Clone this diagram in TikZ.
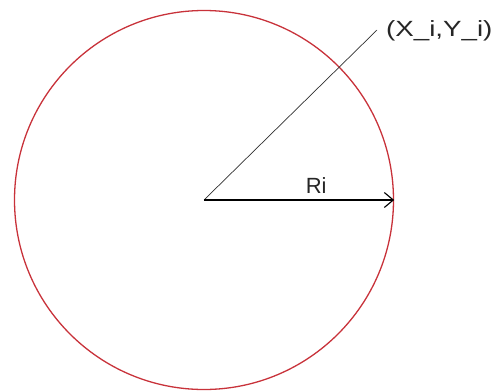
\documentclass[tikz,border=0pt]{standalone}
\usepackage{tikz}
\usetikzlibrary{positioning, arrows.meta}
\usepackage{fontspec}
\setmainfont{Liberation Sans}
\newfontfamily\stretchfont[FakeStretch=1.26]{Liberation Sans}
\definecolor{ringred}{HTML}{C8323A}
\definecolor{lgray}{HTML}{303030}

\begin{document}
\begin{tikzpicture}[
        x=1pt, y=-1pt,
        every node/.style={font=\fontsize{22}{24}\selectfont, text=black!85},
        ring/.style={draw=ringred, line width=1.3pt, circle,
                     minimum size=379pt, inner sep=0pt},
        radius arrow/.style={line width=1.1pt,
                     -{Straight Barb[length=9pt, width=15pt]}},
        thin line/.style={draw=lgray, line width=0.7pt},
      ]
      \useasboundingbox (0,0) rectangle (493,391);
      \coordinate (ctr) at (204, 200);
      \node[ring] (circ) at (ctr) {};
      \coordinate (pt) at (377, 30);
      \node[anchor=west, inner sep=0pt, font=\fontsize{22}{24}\stretchfont]
        (ptlabel) at (386, 31) {(X\_i,Y\_i)};
      \draw[thin line] (ctr) -- (pt);
      \draw[radius arrow] (ctr) -- (circ.east)
        node[pos=0.59, above=6pt, inner sep=0pt] (rlabel) {Ri};
    \end{tikzpicture}
\end{document}
